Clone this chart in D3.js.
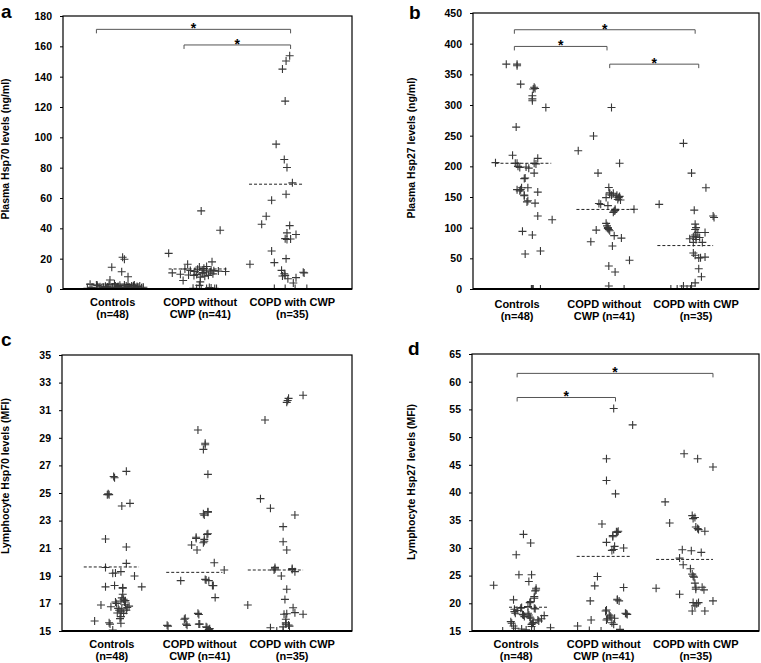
<!DOCTYPE html>
<html>
<head>
<meta charset="utf-8">
<script src="https://cdn.jsdelivr.net/npm/d3@7"></script>
<style>
  html, body { margin: 0; padding: 0; background: #fff; }
  svg { display: block; font-family: "Liberation Sans", Arial, sans-serif; }
</style>
</head>
<body>
<svg id="chart" width="761" height="663"></svg>
<script>
// ---------- DATA ----------
const catLine1 = ["Controls", "COPD without", "COPD with CWP"];
const catLine2 = ["(n=48)", "CWP (n=41)", "(n=35)"];
const catPos = [1.0, 1.97, 2.99];

// Panel a: Plasma Hsp70 (ng/ml)  [jitter x in category units, value]
const aTicks = [0, 20, 40, 60, 80, 100, 120, 140, 160, 180];
const aControls = [[0.72,0.5],[0.75,3.1],[0.82,2.6],[0.83,2.4],[0.86,1.5],[0.90,1.0],[0.92,1.8],[0.95,0.8],[0.97,5.9],[0.99,14.3],[1.00,1.2],[1.03,2.0],[1.05,0.6],[1.06,1.6],[1.08,2.4],[1.10,11.4],[1.11,20.9],[1.13,19.6],[1.14,0.9],[1.15,1.9],[1.17,8.1],[1.17,3.0],[1.19,1.3],[1.20,0.4],[1.23,2.2],[1.25,1.0],[1.27,1.7],[1.32,0.7],[1.34,1.2],[0.93,0.3],[0.96,2.8],[0.98,0.5],[1.07,0.2],[1.09,1.1],[1.16,0.3],[1.21,1.9],[0.88,0.6],[0.85,0.2],[1.02,3.4],[1.04,0.9],[1.18,0.6],[1.24,2.6],[0.94,1.4],[1.13,2.6],[1.28,0.4],[0.77,1.1],[1.30,2.0],[1.06,0.1]];
const aWithout = [[1.62,23.5],[1.83,16.3],[1.78,5.6],[1.66,10.6],[1.75,9.7],[1.84,9.2],[1.96,14.5],[1.98,51.5],[2.19,38.7],[2.10,17.9],[2.25,11.5],[1.97,4.7],[1.96,2.4],[2.02,8.4],[2.04,11.9],[2.08,11.2],[2.00,12.4],[1.93,0.3],[2.04,0.3],[2.15,0.3],[1.94,13.0],[1.99,10.5],[2.06,9.0],[2.09,12.5],[1.91,11.6],[2.01,13.6],[2.11,10.0],[1.97,7.8],[1.86,12.2],[1.89,0.5],[2.07,1.0],[2.12,12.1],[1.93,9.5],[1.80,13.2],[2.04,14.8],[2.13,0.4],[1.98,0.2],[2.00,10.9],[2.17,11.8],[1.90,8.9],[2.09,0.6]];
const aWith = [[2.96,153.8],[2.92,150.3],[2.88,145],[2.91,123.9],[2.81,95.5],[2.90,85.4],[2.93,80.1],[2.99,70],[2.92,62.5],[2.76,58.5],[2.70,48],[2.65,42.7],[2.96,41.8],[2.93,37],[3.03,35.9],[2.91,33.2],[2.93,32.6],[2.97,33],[2.76,25.1],[2.79,17.4],[2.52,16.3],[2.92,20],[2.87,12.3],[2.90,10.1],[2.88,8.6],[2.91,9],[2.94,6.8],[3.03,7.5],[3.00,4],[3.12,10.6],[3.11,11],[2.79,0.3],[2.91,0.3],[3.02,0.3],[3.15,0.3]];
const aMedians = [3.3, 13.2, 69.1];
const aSpans = [[0.71,1.33],[1.62,2.26],[2.51,3.10]];
const aBrackets = [[0.82,2.97,171.2],[1.79,2.97,160.9]];

// Panel b: Plasma Hsp27 (ng/ml)
const bTicks = [0, 50, 100, 150, 200, 250, 300, 350, 400, 450];
const bControls = [[0.88,366.6],[1.00,366.6],[1.04,334],[1.19,329],[1.20,327],[1.17,315],[1.17,307],[1.32,296],[0.99,264],[0.95,218],[0.76,206],[1.00,205],[1.03,198],[1.10,199],[1.19,205],[1.23,213],[1.19,189],[1.08,180],[1.00,162],[1.04,162],[1.12,165],[1.08,153],[1.11,142],[1.20,140],[1.23,158],[1.23,119],[1.39,113],[1.06,94],[1.17,88],[1.09,57],[1.26,62],[1.16,0],[1.18,0],[1.26,0],[1.01,200],[1.13,197],[1.05,165],[1.18,326],[1.16,0],[0.98,205],[1.09,181],[1.21,204],[1.17,310],[1.03,160],[1.12,144],[1.17,0],[1.00,364],[1.08,152]];
const bWithout = [[1.68,225.5],[1.85,249.5],[2.05,296],[1.90,189],[2.14,205],[2.02,165.6],[1.99,149],[2.03,155],[2.07,156],[2.11,153],[2.13,149],[2.15,145],[1.91,139.5],[2.01,136],[2.09,130],[2.08,127],[2.30,130],[1.99,107],[2.01,98.6],[2.02,97],[1.88,96],[1.82,77],[2.08,87],[2.16,83],[2.06,70],[2.02,37.6],[2.09,27.8],[2.25,46.9],[2.02,5],[2.19,0],[2.10,150],[2.05,153],[2.12,146],[2.00,103],[2.09,128],[2.03,95],[2.14,151],[2.07,125],[2.03,157],[1.93,138],[2.01,100]];
const bWith = [[2.58,138],[2.85,237.5],[2.94,189],[3.10,165],[3.18,119],[3.19,116.6],[2.97,128.6],[2.98,105.7],[2.98,97],[3.01,92],[3.09,92],[2.96,85],[2.99,85],[2.92,82],[2.99,80.6],[2.96,76],[3.06,76],[2.96,58.8],[2.98,55],[3.02,50.7],[3.04,51],[3.09,52],[3.02,33],[3.05,20],[2.98,10],[2.94,5],[2.85,5],[2.71,0],[2.78,0],[2.83,0],[2.89,0],[2.93,0],[2.98,88],[3.03,84],[2.99,100]];
const bMedians = [205, 129.7, 70.8];
const bSpans = [[0.76,1.38],[1.66,2.31],[2.56,3.18]];
const bBrackets = [[0.97,2.98,422.7],[0.97,2.00,395.5],[2.03,3.02,366.6]];

// Panel c: Lymphocyte Hsp70 (MFI)
const cTicks = [15, 17, 19, 21, 23, 25, 27, 29, 31, 33, 35];
const cControls = [[1.03,26.1],[1.16,26.57],[0.95,24.88],[0.97,24.88],[1.11,24.06],[1.20,24.25],[0.93,21.67],[1.16,21.09],[1.16,19.9],[0.93,19.6],[1.01,19.18],[1.10,19.3],[1.25,18.99],[0.93,18.2],[1.03,18.3],[1.12,18.14],[1.33,18.2],[1.12,17.66],[1.13,17.3],[1.04,17.1],[1.10,17.17],[1.14,17.1],[0.88,16.88],[0.99,16.76],[1.07,16.64],[1.19,16.8],[1.16,16.5],[1.10,16.4],[1.13,16.28],[1.10,16.04],[0.81,15.72],[0.97,15.6],[1.10,15.56],[1.01,15.07],[1.02,26.2],[0.96,24.95],[1.11,17.4],[1.08,16.5],[1.15,16.9],[1.05,17.0],[1.17,16.7],[1.09,15.9],[1.04,19.2],[1.12,18.1],[1.06,16.3],[1.15,17.2],[0.98,15.5],[1.11,16.6]];
const cWithout = [[1.95,29.57],[2.03,28.6],[2.01,28.16],[2.06,26.35],[2.02,23.4],[2.06,23.65],[2.06,22.05],[1.93,21.79],[2.01,21.4],[2.02,21.64],[1.88,21.23],[1.94,20.87],[2.13,19.95],[2.24,19.42],[1.76,18.65],[2.03,18.74],[2.07,18.65],[2.12,18.29],[2.14,17.42],[1.95,16.28],[1.81,15.92],[1.61,15.41],[1.83,15.41],[1.97,15.5],[2.04,15.3],[2.08,15.17],[2.03,28.5],[2.01,23.5],[2.02,21.5],[2.04,18.7],[1.96,16.2],[1.96,15.5],[2.05,15.25],[1.82,15.5],[1.80,15.85],[2.06,23.6],[1.93,21.7],[2.11,18.3],[2.07,15.1],[1.62,15.35],[2.05,22.0]];
const cWith = [[3.11,32.08],[2.95,31.86],[2.93,31.57],[2.69,30.29],[2.64,24.59],[2.75,23.89],[3.02,23.41],[2.89,22.56],[2.89,21.47],[2.93,20.87],[2.80,19.61],[2.79,19.42],[2.99,19.52],[3.02,19.3],[2.87,18.99],[2.93,18.02],[2.91,17.29],[3.00,16.69],[3.02,16.33],[3.11,16.21],[2.90,16.21],[2.50,16.88],[2.92,15.85],[2.92,15.6],[2.95,15.43],[2.89,15.3],[2.75,15.24],[2.89,15.0],[2.94,31.7],[2.99,19.45],[2.92,15.5],[2.93,16.25],[2.80,19.5],[2.96,15.35],[2.82,15.0]];
const cMedians = [19.64, 19.25, 19.42];
const cSpans = [[0.69,1.30],[1.60,2.22],[2.50,3.11]];
const cBrackets = [];

// Panel d: Lymphocyte Hsp27 (MFI)
const dTicks = [15, 20, 25, 30, 35, 40, 45, 50, 55, 60, 65];
const dControls = [[1.08,32.45],[1.16,30.88],[1.00,28.77],[1.03,25.14],[1.17,25.14],[0.75,23.27],[1.14,23.94],[1.22,22.73],[1.21,22.25],[0.97,20.62],[1.15,20.13],[1.20,20.92],[0.98,18.93],[1.06,19.23],[1.20,19.1],[0.99,18.2],[1.08,17.9],[1.14,17.9],[1.16,17.29],[1.31,17.78],[1.25,16.81],[1.17,16.2],[1.19,16.51],[0.94,16.69],[0.97,15.9],[1.06,15.36],[0.85,15.0],[1.38,15.6],[1.22,22.4],[0.98,18.5],[1.07,18.0],[1.15,17.5],[1.21,19.0],[1.13,18.2],[1.18,16.4],[1.24,17.0],[1.01,18.7],[1.09,17.6],[1.16,20.3],[1.20,21.2],[0.95,16.4],[1.11,15.2],[1.20,15.0],[1.05,19.1],[1.13,19.4],[0.99,15.5],[1.28,17.2],[1.17,15.8]];
const dWithout = [[2.08,55.16],[2.29,52.2],[2.00,46.1],[2.00,42.17],[2.10,39.76],[1.95,34.32],[2.12,32.81],[2.07,32.21],[2.13,33.0],[2.00,31.0],[2.09,30.28],[2.06,29.55],[2.19,29.98],[1.90,24.84],[1.87,23.15],[2.19,22.85],[1.82,20.43],[2.12,20.74],[2.14,20.43],[2.00,18.8],[2.21,18.2],[2.23,18.0],[1.83,16.99],[2.03,17.9],[2.05,17.48],[2.00,16.99],[2.09,17.29],[2.08,16.2],[1.68,15.9],[2.11,32.9],[2.07,32.0],[2.12,20.6],[2.22,18.1],[2.04,17.7],[2.01,17.2],[2.08,29.7],[2.06,16.5],[1.99,18.6],[1.81,15.1],[2.15,15.3],[1.94,15.0]];
const dWith = [[2.86,47],[3.01,46.1],[3.18,44.59],[2.65,38.3],[2.70,34.5],[2.95,35.83],[2.96,35.29],[2.99,33.78],[3.02,33.3],[3.09,33.0],[2.84,29.67],[2.94,29.49],[3.05,29.19],[2.81,28.16],[2.85,26.96],[2.93,26.23],[2.95,25.27],[2.97,24.72],[2.98,23.64],[2.55,22.73],[2.99,22.91],[3.06,22.91],[3.08,22.43],[2.99,22.55],[2.81,21.64],[3.18,20.43],[2.96,20.13],[3.02,20.13],[2.98,19.53],[2.95,18.62],[3.09,18.62],[2.98,35.5],[3.01,33.5],[2.96,24.9],[3.00,19.9]];
const dMedians = [19.29, 28.47, 27.92];
const dSpans = [[0.92,1.36],[1.67,2.27],[2.55,3.18]];
const dBrackets = [[1.01,3.18,61.5],[1.01,2.10,57.15]];

// ---------- LAYOUT ----------
const panels = [
  { letter: "a", lx: 1, ly: 17.5, box: [63, 352, 16, 289], xDom: [0.45, 3.65], yDom: [0, 180], ticks: aTicks,
    title: "Plasma Hsp70 levels (ng/ml)", tx: 9, ty: 149, labY: [306, 318],
    groups: [aControls, aWithout, aWith], medians: aMedians, spans: aSpans, brackets: aBrackets },
  { letter: "b", lx: 409, ly: 19, box: [473, 759, 13, 289], xDom: [0.51, 3.69], yDom: [0, 450], ticks: bTicks,
    title: "Plasma Hsp27 levels (ng/ml)", tx: 415, ty: 148, labY: [308, 320],
    groups: [bControls, bWithout, bWith], medians: bMedians, spans: bSpans, brackets: bBrackets },
  { letter: "c", lx: 1, ly: 346, box: [62, 352, 355, 631], xDom: [0.45, 3.65], yDom: [15, 35], ticks: cTicks,
    title: "Lymphocyte Hsp70 levels (MFI)", tx: 9, ty: 476, labY: [648, 660],
    groups: [cControls, cWithout, cWith], medians: cMedians, spans: cSpans, brackets: cBrackets },
  { letter: "d", lx: 408, ly: 355, box: [472, 759, 354, 631], xDom: [0.51, 3.69], yDom: [15, 65], ticks: dTicks,
    title: "Lymphocyte Hsp27 levels (MFI)", tx: 415, ty: 482, labY: [648, 660],
    groups: [dControls, dWithout, dWith], medians: dMedians, spans: dSpans, brackets: dBrackets }
];

const svg = d3.select("#chart");
const markColor = "#383838";

panels.forEach((p, i) => {
  const [x0, x1, y0, y1] = p.box;
  const x = d3.scaleLinear().domain(p.xDom).range([x0, x1]);
  const y = d3.scaleLinear().domain(p.yDom).range([y1, y0]);
  const g = svg.append("g");

  const clipId = "clip" + i;
  svg.append("clipPath").attr("id", clipId)
    .append("rect").attr("x", x0).attr("y", y0).attr("width", x1 - x0).attr("height", y1 - y0);

  // panel letter
  g.append("text").attr("x", p.lx).attr("y", p.ly)
    .attr("font-size", 19).attr("font-weight", "bold").text(p.letter);

  // y axis ticks
  const yAxis = d3.axisLeft(y).tickValues(p.ticks).tickSize(3).tickPadding(8).tickFormat(d3.format("d"));
  const ga = g.append("g").attr("transform", `translate(${x0},0)`).call(yAxis);
  ga.select(".domain").remove();
  ga.selectAll("line").attr("stroke", "#000").attr("stroke-width", 1);
  ga.selectAll("text").attr("font-size", 10.5).attr("font-weight", "bold")
    .attr("font-family", "'Liberation Sans', Arial, sans-serif").attr("fill", "#000");

  // y title
  g.append("text")
    .attr("transform", `translate(${p.tx},${p.ty}) rotate(-90)`)
    .attr("text-anchor", "middle").attr("font-size", 10.5).attr("font-weight", "bold")
    .text(p.title);

  // points
  const pts = g.append("g").attr("clip-path", `url(#${clipId})`);
  p.groups.forEach(arr => {
    pts.selectAll(null).data(arr).enter().append("path")
      .attr("transform", d => `translate(${x(d[0])},${y(d[1])})`)
      .attr("d", "M-4,0H4M0,-4V4")
      .attr("stroke", markColor).attr("stroke-width", 1.1).attr("fill", "none");
  });

  // medians (dashed)
  g.selectAll(null).data(p.medians).enter().append("line")
    .attr("x1", (d, k) => x(p.spans[k][0])).attr("x2", (d, k) => x(p.spans[k][1]))
    .attr("y1", d => y(d)).attr("y2", d => y(d))
    .attr("stroke", "#222").attr("stroke-width", 1).attr("stroke-dasharray", "3,2");

  // box
  g.append("rect").attr("x", x0).attr("y", y0).attr("width", x1 - x0).attr("height", y1 - y0)
    .attr("fill", "none").attr("stroke", "#000").attr("stroke-width", 1.2);
  g.append("line").attr("x1", x0).attr("x2", x1).attr("y1", y1).attr("y2", y1)
    .attr("stroke", "#000").attr("stroke-width", 2);

  // significance brackets
  p.brackets.forEach(b => {
    const bx0 = x(b[0]), bx1 = x(b[1]), by = y(b[2]);
    g.append("path")
      .attr("d", `M${bx0},${by + 4}V${by}H${bx1}V${by + 4}`)
      .attr("fill", "none").attr("stroke", "#555").attr("stroke-width", 1);
    g.append("text").attr("x", (bx0 + bx1) / 2).attr("y", by + 4)
      .attr("text-anchor", "middle").attr("font-size", 14).attr("font-weight", "bold").text("*");
  });

  // category labels
  catLine1.forEach((t, k) => {
    g.append("text").attr("x", x(catPos[k])).attr("y", p.labY[0])
      .attr("text-anchor", "middle").attr("font-size", 11).attr("font-weight", "bold").text(t);
    g.append("text").attr("x", x(catPos[k])).attr("y", p.labY[1])
      .attr("text-anchor", "middle").attr("font-size", 11).attr("font-weight", "bold").text(catLine2[k]);
  });
});
</script>
</body>
</html>
